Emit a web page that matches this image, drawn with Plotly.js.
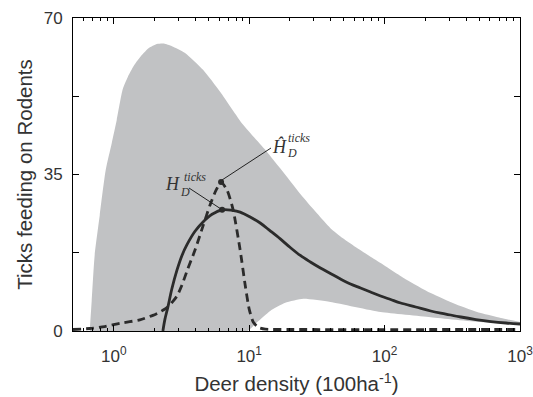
<!DOCTYPE html>
<html>
<head>
<meta charset="utf-8">
<script src="https://cdn.plot.ly/plotly-3.0.1.min.js"></script>
<style>html,body{margin:0;padding:0;background:#fff;}#chart{width:533px;height:397px;}</style>
</head>
<body>
<div id="chart"></div>
<script>
// Grey band (range of outcomes)
const bandUpperX = [0.664, 0.687, 0.723, 0.788, 0.872, 0.966, 1.052, 1.166, 1.27, 1.406, 1.61, 1.817, 2.08, 2.346, 2.689, 3.36, 4.563, 6.098, 9.027, 13.59, 19.12, 25.0, 31.9, 39.8, 48.9, 61.0, 75.3, 93.4, 143, 219, 335.7, 514, 723, 1000];
const bandUpperY = [0, 6.7, 17.0, 25.9, 36.0, 42.0, 47.2, 54.1, 56.8, 59.3, 61.7, 63.3, 64.2, 64.3, 63.7, 62.2, 58.4, 53.5, 46.1, 40.0, 34.4, 29.9, 26.2, 23.0, 20.8, 18.8, 17.0, 15.2, 11.6, 8.5, 6.0, 4.0, 2.9, 2.0];
const bandLowerX = [0.664, 9.66, 11.47, 14.3, 18.48, 25.12, 39.8, 93.4, 219, 514, 1000];
const bandLowerY = [0, 0, 2.0, 4.5, 6.3, 7.2, 6.5, 4.25, 3.1, 2.0, 1.35];

// Solid curve H_D^ticks
const solidX = [2.306, 2.386, 2.512, 2.689, 2.929, 3.19, 3.473, 3.981, 4.563, 5.319, 6.31, 7.484, 8.577, 10.17, 12.06, 14.3, 16.97, 20.12, 23.87, 28.3, 33.57, 39.81, 47.22, 56.0, 66.43, 78.75, 93.41, 110.8, 131.4, 169.7, 219.1, 283.1, 365.6, 472.3, 609.6, 787.5, 1000];
const solidY = [0, 2.6, 5.4, 9.5, 13.6, 16.9, 19.3, 22.3, 24.4, 26.1, 27.1, 27.0, 26.6, 25.5, 24.15, 22.4, 20.6, 18.67, 16.89, 15.43, 14.09, 12.86, 11.63, 10.51, 9.62, 8.72, 7.83, 7.04, 6.26, 5.37, 4.47, 3.8, 3.13, 2.57, 2.12, 1.79, 1.57];

// Dashed curve Ĥ_D^ticks
const dashedX = [0.5, 0.664, 0.858, 1.108, 1.558, 1.945, 2.192, 2.512, 2.929, 3.19, 3.473, 3.981, 4.563, 5.142, 5.695, 6.202, 6.871, 7.612, 8.577, 9.342, 10.0, 10.71, 11.66, 13.14, 20, 1000];
const dashedY = [0.34, 0.56, 1.0, 1.7, 2.5, 3.5, 4.25, 5.4, 7.8, 10.3, 13.4, 18.1, 23.5, 28.2, 31.5, 33.3, 31.5, 27.1, 18.1, 10.3, 4.9, 2.0, 0.8, 0.4, 0.34, 0.34];

// Peak markers
const peakX = [6.31, 6.2];
const peakY = [27.1, 33.3];

// Tick labels
const xTickVals = [1, 10, 100, 1000];
const xTickText = ['10<sup>0</sup>', '10<sup>1</sup>', '10<sup>2</sup>', '10<sup>3</sup>'];
const yTickVals = [0, 17.5, 35, 52.5, 70];
const yTickText = ['0', '', '35', '', '70'];

const lineColor = '#2b2b2b';
const grey = 'rgb(193,194,196)';

const traces = [
  {x: bandLowerX, y: bandLowerY, type: 'scatter', mode: 'lines',
   line: {width: 0, color: grey, shape: 'spline', smoothing: 0.5}, hoverinfo: 'skip'},
  {x: bandUpperX, y: bandUpperY, type: 'scatter', mode: 'lines', fill: 'tonexty', fillcolor: grey,
   line: {width: 0, color: grey, shape: 'spline', smoothing: 0.6}, hoverinfo: 'skip'},
  {x: solidX, y: solidY, type: 'scatter', mode: 'lines',
   line: {color: lineColor, width: 2.8, shape: 'spline', smoothing: 1}},
  {x: dashedX, y: dashedY, type: 'scatter', mode: 'lines',
   line: {color: lineColor, width: 2.8, dash: '8px,5px', shape: 'spline', smoothing: 0.6}},
  {x: peakX, y: peakY, type: 'scatter', mode: 'markers',
   marker: {color: lineColor, size: 6}}
];

// plot area in pixels: left 73, right 520, top 18, bottom 331
const L = 73, R = 520, T = 18, B = 331;
const px = v => (v - L) / (R - L);
const py = v => (B - v) / (B - T);

const serif = 'Liberation Serif, Times New Roman, serif';
function lab(x, y, text, size) {
  return {xref: 'paper', yref: 'paper', x: px(x), y: py(y), text: text, showarrow: false,
    xanchor: 'left', yanchor: 'middle', font: {family: serif, size: size, color: '#333'}};
}

const layout = {
  width: 533, height: 397,
  margin: {l: L, r: 533 - R, t: T, b: 397 - B},
  paper_bgcolor: '#fff', plot_bgcolor: '#fff',
  showlegend: false,
  font: {family: 'Liberation Sans, Arial, sans-serif', color: '#333'},
  xaxis: {
    type: 'log', range: [Math.log10(0.5), 3],
    tickvals: xTickVals, ticktext: xTickText,
    ticks: 'inside', ticklen: 6, tickcolor: '#000', tickwidth: 1,
    minor: {ticks: 'inside', ticklen: 3, dtick: 'D1', tickcolor: '#000', showgrid: false},
    showline: true, linecolor: '#000', linewidth: 1, mirror: 'allticks',
    showgrid: false, zeroline: false,
    tickfont: {size: 17, color: '#333'},
    ticklabelstandoff: 10,
    ticklabeloverflow: 'allow',
    title: {text: 'Deer density (100ha<sup>-1</sup>)', font: {size: 20.5, color: '#333'}, standoff: 11}
  },
  yaxis: {
    range: [0, 70],
    tickvals: yTickVals, ticktext: yTickText,
    ticks: 'inside', ticklen: 6, tickcolor: '#000', tickwidth: 1,
    showline: true, linecolor: '#000', linewidth: 1, mirror: 'allticks',
    showgrid: false, zeroline: false,
    tickfont: {size: 17, color: '#333'},
    ticklabelstandoff: 6,
    title: {text: 'Ticks feeding on Rodents', font: {size: 20.5, color: '#333'}, standoff: 5}
  },
  shapes: [
    {type: 'line', xref: 'paper', yref: 'paper', x0: px(189), y0: py(188), x1: px(221), y1: py(209),
     line: {color: '#222', width: 1}},
    {type: 'line', xref: 'paper', yref: 'paper', x0: px(271), y0: py(148), x1: px(222), y1: py(180),
     line: {color: '#222', width: 1}}
  ],
  annotations: [
    lab(163, 184, '<i>H</i>', 18),
    lab(178, 192, '<i>D</i>', 12),
    lab(182, 177, '<i>ticks</i>', 12),
    lab(270, 146, '<i>\u0124</i>', 18),
    lab(285, 153, '<i>D</i>', 12),
    lab(286, 138, '<i>ticks</i>', 12)
  ]
};

Plotly.newPlot('chart', traces, layout, {staticPlot: true, displayModeBar: false});
</script>
</body>
</html>
